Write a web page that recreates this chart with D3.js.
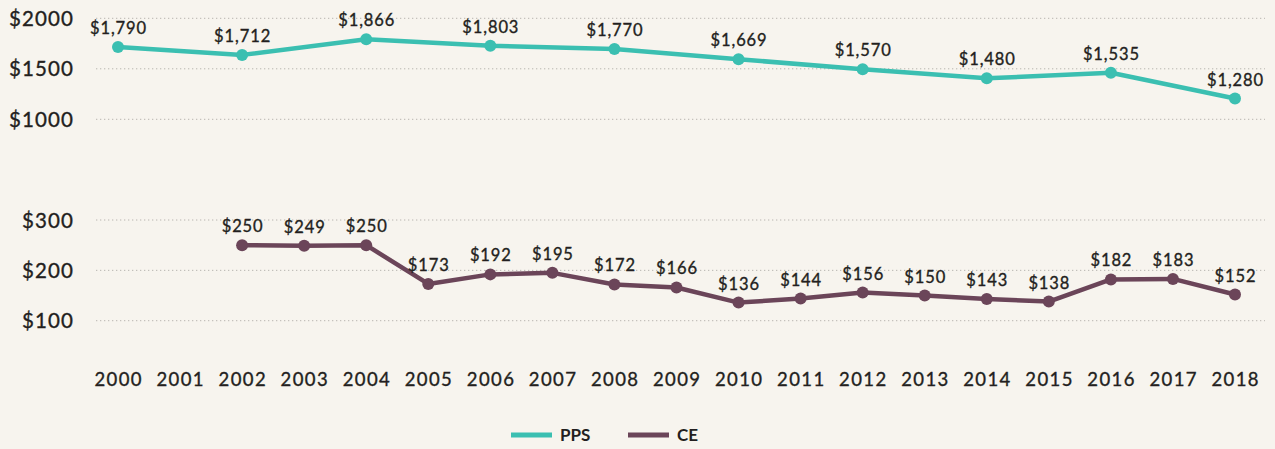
<!DOCTYPE html>
<html>
<head>
<meta charset="utf-8">
<title>PPS vs CE</title>
<script src="https://cdn.jsdelivr.net/npm/d3@7"></script>
<style>
  html, body { margin: 0; padding: 0; background: #f7f4ee; }
  svg { display: block; font-family: "Lato", "Open Sans", sans-serif; }
  .txt { stroke: #231f20; stroke-width: 0.35px; fill: #231f20; }
</style>
</head>
<body>
<div id="chart"></div>
<script>
var years = [2000, 2001, 2002, 2003, 2004, 2005, 2006, 2007, 2008, 2009,
             2010, 2011, 2012, 2013, 2014, 2015, 2016, 2017, 2018];

var ppsYears  = [2000, 2002, 2004, 2006, 2008, 2010, 2012, 2014, 2016, 2018];
var ppsValues = [1790, 1712, 1866, 1803, 1770, 1669, 1570, 1480, 1535, 1280];

var ceYears  = [2002, 2003, 2004, 2005, 2006, 2007, 2008, 2009, 2010,
                2011, 2012, 2013, 2014, 2015, 2016, 2017, 2018];
var ceValues = [250, 249, 250, 173, 192, 195, 172, 166, 136,
                144, 156, 150, 143, 138, 182, 183, 152];

var topTicks = [2000, 1500, 1000];
var bottomTicks = [300, 200, 100];

var tealColor = "#3bbfb1";
var plumColor = "#6b4559";

function drawChart() {
    var svg = d3.select("#chart").append("svg")
        .attr("width", 1275)
        .attr("height", 449);

    svg.append("rect")
        .attr("width", 1275).attr("height", 449)
        .attr("fill", "#f7f4ee");

    var x = d3.scaleLinear().domain([2000, 2018]).range([118, 1235]);

    // two stacked panels, same px per dollar ratio as each other
    var yTop = d3.scaleLinear().domain([1000, 2000]).range([119.3, 18.3]);
    var yBottom = d3.scaleLinear().domain([100, 300]).range([320.7, 220]);
    // the original plots PPS dots slightly below their gridline value
    var yTopPts = yTop.copy().range([126.8, 25.8]);

    drawGrid(svg, yTop, topTicks);
    drawGrid(svg, yBottom, bottomTicks);

    svg.append("g").selectAll("text")
        .data(years)
      .enter().append("text")
        .attr("class", "txt")
        .attr("x", function(d) { return x(d) + 0.7; })
        .attr("y", 386)
        .attr("text-anchor", "middle")
        .attr("font-size", 18.5)
        .attr("letter-spacing", 1.4)
        .text(function(d) { return d; });

    drawSeries(svg, x, yTopPts, ppsYears, ppsValues, tealColor);
    drawSeries(svg, x, yBottom, ceYears, ceValues, plumColor);

    drawLegend(svg);
}

function drawGrid(svg, y, ticks) {
    var g = svg.append("g");
    g.selectAll("line")
        .data(ticks)
      .enter().append("line")
        .attr("x1", 96).attr("x2", 1265)
        .attr("y1", function(d) { return y(d); })
        .attr("y2", function(d) { return y(d); })
        .attr("stroke", "#b8b5b0")
        .attr("stroke-width", 1)
        .attr("stroke-dasharray", "1.3,2.7");
    g.selectAll("text")
        .data(ticks)
      .enter().append("text")
        .attr("class", "txt")
        .attr("x", 74)
        .attr("y", function(d) { return y(d) + 7.5; })
        .attr("text-anchor", "end")
        .attr("font-size", 20.5)
        .attr("letter-spacing", 1.1)
        .text(function(d) { return "$" + d; });
}

function drawSeries(svg, x, y, xs, vals, color) {
    var pts = xs.map(function(d, i) { return {year: d, value: vals[i]}; });
    var line = d3.line()
        .x(function(d) { return x(d.year); })
        .y(function(d) { return y(d.value); });

    var g = svg.append("g");
    g.append("path")
        .datum(pts)
        .attr("d", line)
        .attr("fill", "none")
        .attr("stroke", color)
        .attr("stroke-width", 4.5)
        .attr("stroke-linejoin", "round");

    g.selectAll("circle")
        .data(pts)
      .enter().append("circle")
        .attr("cx", function(d) { return x(d.year); })
        .attr("cy", function(d) { return y(d.value); })
        .attr("r", 6)
        .attr("fill", color);

    g.selectAll(".lbl")
        .data(pts)
      .enter().append("text")
        .attr("class", "lbl txt")
        .attr("x", function(d) { return x(d.year) + 0.5; })
        .attr("y", function(d) { return y(d.value) - 13; })
        .attr("text-anchor", "middle")
        .attr("font-size", 16.5)
        .attr("letter-spacing", 0.9)
        .text(function(d) { return "$" + d3.format(",")(d.value); });
}

function drawLegend(svg) {
    var items = [
        {name: "PPS", color: tealColor, x: 511},
        {name: "CE", color: plumColor, x: 628}
    ];
    var g = svg.append("g");
    var item = g.selectAll("g")
        .data(items)
      .enter().append("g");
    item.append("line")
        .attr("x1", function(d) { return d.x; })
        .attr("x2", function(d) { return d.x + 41; })
        .attr("y1", 435).attr("y2", 435)
        .attr("stroke", function(d) { return d.color; })
        .attr("stroke-width", 5);
    item.append("text")
        .attr("x", function(d) { return d.x + 49; })
        .attr("y", 441)
        .attr("font-size", 17)
        .attr("font-weight", 700)
        .attr("fill", "#231f20")
        .text(function(d) { return d.name; });
}

drawChart();
</script>
</body>
</html>
